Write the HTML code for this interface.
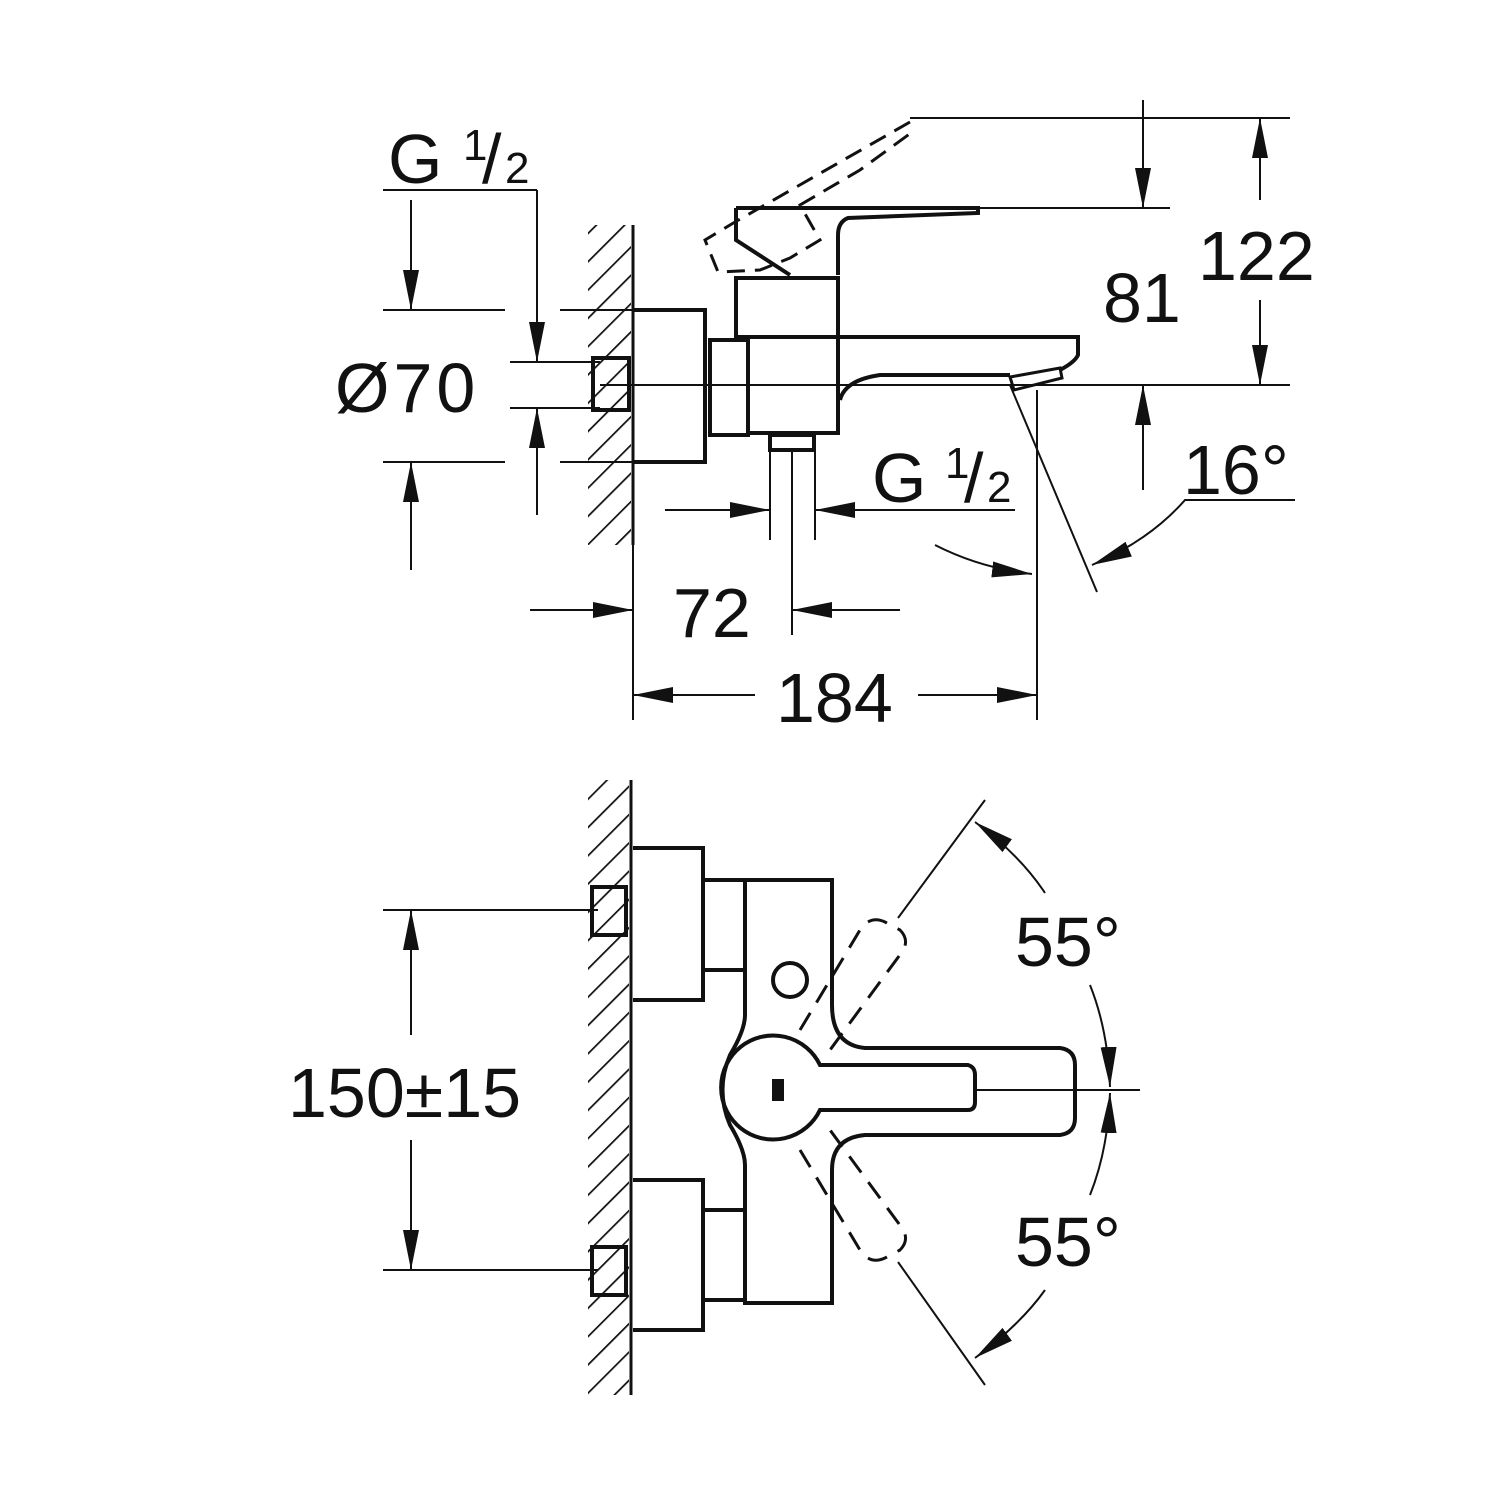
<!DOCTYPE html>
<html><head><style>body{margin:0;background:#fff}svg{display:block}text{font-family:"Liberation Sans",sans-serif;fill:#111}</style></head><body>
<svg width="1500" height="1500" viewBox="0 0 1500 1500" xmlns="http://www.w3.org/2000/svg">
<defs>
<pattern id="h" width="20" height="20" patternUnits="userSpaceOnUse" patternTransform="rotate(45)"><line x1="0" y1="0" x2="0" y2="20" stroke="#111" stroke-width="3.5"/></pattern>
<marker id="a" markerWidth="40" markerHeight="16" refX="40" refY="8" orient="auto" markerUnits="userSpaceOnUse" viewBox="0 0 40 16"><path d="M0,0 L40,8 L0,16z" fill="#111"/></marker>
</defs>
<g stroke="#111" fill="none">
<!-- TOP VIEW -->
<rect x="588" y="225" width="43" height="320" fill="url(#h)" stroke="none"/>
<line x1="633" y1="225" x2="633" y2="545" stroke-width="3"/>
<g stroke-width="2">
<line x1="383" y1="190" x2="537" y2="190"/>
<line x1="537" y1="190" x2="537" y2="362" marker-end="url(#a)"/>
<line x1="537" y1="515" x2="537" y2="408" marker-end="url(#a)"/>
<line x1="411" y1="200" x2="411" y2="310" marker-end="url(#a)"/>
<line x1="411" y1="570" x2="411" y2="462" marker-end="url(#a)"/>
<line x1="383" y1="310" x2="505" y2="310"/><line x1="560" y1="310" x2="633" y2="310"/>
<line x1="383" y1="462" x2="505" y2="462"/><line x1="560" y1="462" x2="633" y2="462"/>
<line x1="510" y1="362" x2="600" y2="362"/><line x1="510" y1="408" x2="600" y2="408"/>
<line x1="600" y1="385" x2="1290" y2="385"/>
<line x1="910" y1="118" x2="1290" y2="118"/>
<line x1="978" y1="208" x2="1170" y2="208"/>
<line x1="1143" y1="100" x2="1143" y2="208" marker-end="url(#a)"/>
<line x1="1143" y1="490" x2="1143" y2="385" marker-end="url(#a)"/>
<line x1="1260" y1="200" x2="1260" y2="118" marker-end="url(#a)"/>
<line x1="1260" y1="300" x2="1260" y2="385" marker-end="url(#a)"/>
<line x1="1010" y1="385" x2="1097" y2="592"/>
<path d="M935,545 Q980,568 1032,574" marker-end="url(#a)"/>
<path d="M1295,500 L1185,500 Q1150,540 1092,565" marker-end="url(#a)"/>
<line x1="665" y1="510" x2="770" y2="510" marker-end="url(#a)"/>
<line x1="1015" y1="510" x2="815" y2="510" marker-end="url(#a)"/>
<line x1="530" y1="610" x2="633" y2="610" marker-end="url(#a)"/>
<line x1="900" y1="610" x2="792" y2="610" marker-end="url(#a)"/>
<line x1="633" y1="462" x2="633" y2="720"/>
<line x1="1037" y1="390" x2="1037" y2="720"/>
<line x1="755" y1="695" x2="633" y2="695" marker-end="url(#a)"/>
<line x1="918" y1="695" x2="1037" y2="695" marker-end="url(#a)"/>
<line x1="792" y1="450" x2="792" y2="635"/>
<line x1="770" y1="450" x2="770" y2="540"/><line x1="815" y1="450" x2="815" y2="540"/>
</g>
<g stroke-width="4">
<rect x="593" y="358" width="36" height="52"/>
<path d="M633,310 H705 V462 H633"/>
<rect x="710" y="340" width="38" height="95"/>
<rect x="748" y="337" width="90" height="96"/>
<rect x="736" y="278" width="102" height="59"/>
<rect x="770" y="435" width="44" height="15"/>
<path d="M736,208 H978 V213 L848,218 Q838,222 838,235 V275"/>
<path d="M736,208 V240 L790,275"/>
<path d="M838,337 H1078 V355 Q1075,362 1060,370"/>
<path d="M1010,375 H880 Q845,380 840,400"/>
<path d="M1010,377 L1060,368 L1062,378 L1014,390z" stroke-width="3"/>
</g>
<g stroke-width="3" stroke-dasharray="18 10">
<path d="M910,122 L735,222 L705,240 L718,272 L760,270 L790,258 L820,240 L800,205 L860,170 L915,130"/>
</g>
<!-- BOTTOM VIEW -->
<rect x="588" y="780" width="41" height="615" fill="url(#h)" stroke="none"/>
<line x1="631" y1="780" x2="631" y2="1395" stroke-width="3"/>
<g stroke-width="2">
<line x1="383" y1="910" x2="598" y2="910"/><line x1="383" y1="1270" x2="598" y2="1270"/>
<line x1="411" y1="1035" x2="411" y2="910" marker-end="url(#a)"/>
<line x1="411" y1="1140" x2="411" y2="1270" marker-end="url(#a)"/>
<line x1="975" y1="1090" x2="1140" y2="1090"/>
<line x1="985" y1="800" x2="898" y2="918"/>
<line x1="985" y1="1385" x2="898" y2="1262"/>
<path d="M1045,893 Q1020,855 975,822" marker-end="url(#a)"/>
<path d="M1090,985 Q1108,1030 1110,1087" marker-end="url(#a)"/>
<path d="M1090,1195 Q1108,1150 1110,1093" marker-end="url(#a)"/>
<path d="M1045,1290 Q1020,1325 975,1358" marker-end="url(#a)"/>
</g>
<g stroke-width="4">
<rect x="592" y="887" width="34" height="48"/><rect x="592" y="1247" width="34" height="48"/>
<path d="M633,848 H703 V1000 H633"/><rect x="703" y="880" width="42" height="90"/>
<path d="M633,1180 H703 V1330 H633"/><rect x="703" y="1210" width="42" height="90"/>
<path d="M745,880 H832 V1005 Q832,1045 865,1048 H1060 Q1075,1050 1075,1065 V1118 Q1075,1133 1060,1135 H865 Q832,1138 832,1170 V1303 H745 V1165 Q745,1150 730,1125 Q715,1090 730,1055 Q745,1030 745,1015 Z"/>
<circle cx="790" cy="980" r="17"/>
<path d="M820,1065 H968 Q975,1067 975,1075 V1102 Q975,1110 968,1110 H820 A52,52 0 1,1 820,1065 Z"/>
<rect x="774" y="1081" width="8" height="18" fill="#111"/>
</g>
<g stroke-width="3" stroke-dasharray="20 12">
<path d="M800,1030 L860,930 Q870,915 885,922 L900,930 Q910,940 902,952 L830,1050"/>
<path d="M800,1150 L860,1250 Q870,1265 885,1258 L900,1250 Q910,1240 902,1228 L830,1130"/>
</g>
</g>
<g font-size="70">
<text x="388" y="183">G</text><text x="463" y="160" font-size="44">1</text><text x="482" y="183">/</text><text x="505" y="183" font-size="44">2</text>
<text x="335" y="412" letter-spacing="4">Ø70</text>
<text x="1103" y="322">81</text>
<text x="1198" y="280">122</text>
<text x="1183" y="494">16°</text>
<text x="872" y="502">G</text><text x="945" y="478" font-size="44">1</text><text x="964" y="502">/</text><text x="987" y="502" font-size="44">2</text>
<text x="673" y="637">72</text>
<text x="776" y="722">184</text>
<text x="288" y="1117">150±15</text>
<text x="1015" y="966">55°</text>
<text x="1015" y="1266">55°</text>
</g>
</svg>
</body></html>
